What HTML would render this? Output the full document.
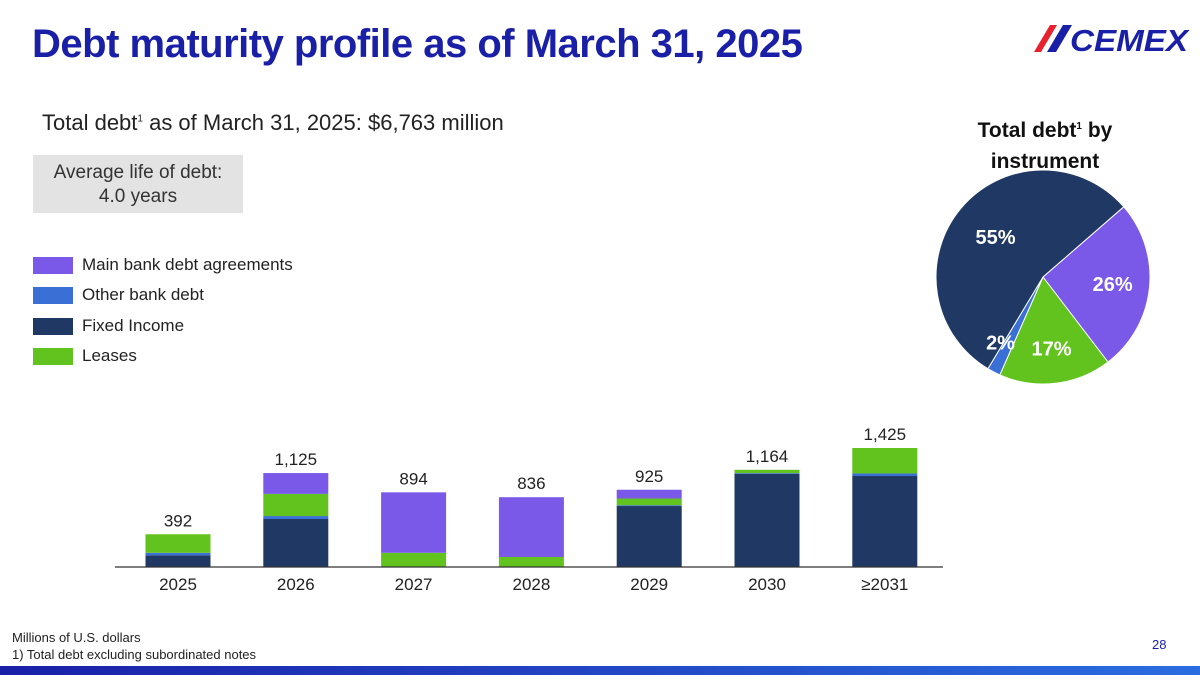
<!DOCTYPE html>
<html><head><meta charset="utf-8"><style>
body{margin:0;width:1200px;height:675px;overflow:hidden;background:#fff;font-family:"Liberation Sans",sans-serif;position:relative}
.a{position:absolute;white-space:nowrap}
</style></head><body>
<div class="a" style="left:32px;top:22px;font-size:40px;font-weight:bold;color:#1a1fa8;letter-spacing:-0.5px">Debt maturity profile as of March 31, 2025</div>
<div class="a" style="left:1028px;top:22px;">
<svg width="165" height="34"><polygon points="6,30 22,3 29,3 13,30" fill="#e8212e"/><polygon points="19,30 35,3 44,3 28,30" fill="#1a1fa8"/><text x="42" y="29" font-family="Liberation Sans" font-weight="bold" font-style="italic" font-size="31" fill="#1a1fa8" textLength="118" lengthAdjust="spacingAndGlyphs">CEMEX</text></svg></div>
<div class="a" style="left:42px;top:110px;font-size:22px;color:#222">Total debt<sup style="font-size:10px">1</sup> as of March 31, 2025: $6,763 million</div>
<div class="a" style="left:33px;top:155px;width:210px;height:58px;background:#e3e3e3;font-size:19px;color:#333;text-align:center;line-height:24px;padding-top:6px;box-sizing:border-box">Average life of debt:<br>4.0 years</div>
<div class="a" style="left:950px;top:111px;width:190px;text-align:center;font-size:21px;font-weight:bold;color:#111;line-height:31px">Total debt<sup style="font-size:10px">1</sup> by<br>instrument</div>
<div id="legend"></div>
<svg id="chart" class="a" style="left:0;top:0" width="1200" height="675"></svg>
<div class="a" style="left:12px;top:630px;font-size:13px;color:#222">Millions of U.S. dollars</div>
<div class="a" style="left:12px;top:647px;font-size:13px;color:#222">1) Total debt excluding subordinated notes</div>
<div class="a" style="left:1152px;top:637px;font-size:13px;color:#1a1fa8">28</div>
<div class="a" style="left:0;top:666px;width:1200px;height:9px;background:linear-gradient(90deg,#1a1fa8,#2a6de0)"></div>
<script>
const categories=["2025","2026","2027","2028","2029","2030","≥2031"];
const totals=[392,1125,894,836,925,1164,1425];
const fixedIncome=[140,575,0,0,730,1114,1090];
const otherBank=[30,35,0,0,10,10,30];
const leases=[222,265,170,120,80,40,305];
const mainBank=[0,250,724,716,105,0,0];
const seriesNames=["Main bank debt agreements","Other bank debt","Fixed Income","Leases"];
const pieLabels=["26%","17%","2%","55%"];
const pieValues=[26,17,2,55];
const colors={main:"#7b59e8",other:"#3a6fd6",fixed:"#203864",lease:"#62c21e"};
const NS="http://www.w3.org/2000/svg";
const svg=document.getElementById('chart');
function mk(t,a){const e=document.createElementNS(NS,t);for(const k in a)e.setAttribute(k,a[k]);svg.appendChild(e);return e;}
const base=567,scale=119/1425;
const y=v=>base-v*scale;
const xc=i=>178+i*117.8;
const bw=65;
const legColors=[colors.main,colors.other,colors.fixed,colors.lease];
const legTop=[255,285,316,346];
const lg=document.getElementById('legend');
seriesNames.forEach((n,i)=>{
 const d=document.createElement('div');
 d.className='a';d.style.left='33px';d.style.top=legTop[i]+'px';
 d.innerHTML='<span style="display:inline-block;width:40px;height:17px;background:'+legColors[i]+';vertical-align:middle"></span><span style="font-size:17px;color:#222;margin-left:9px;vertical-align:middle">'+n+'</span>';
 
 
 lg.appendChild(d);
});
categories.forEach((c,i)=>{
 let acc=0;
 [[fixedIncome,colors.fixed],[otherBank,colors.other],[leases,colors.lease],[mainBank,colors.main]].forEach(([arr,col])=>{
  const v=arr[i]; if(v<=0)return;
  const r=mk('rect',{x:xc(i)-bw/2,y:y(acc+v),width:bw,height:v*scale,fill:col});
  
  
  acc+=v;
 });
 const t=mk('text',{x:xc(i),y:y(totals[i])-8,'text-anchor':'middle','font-size':17,fill:'#222','font-family':'Liberation Sans'});
 t.textContent=totals[i].toLocaleString('en-US');
 
 
 const l=mk('text',{x:xc(i),y:590,'text-anchor':'middle','font-size':17,fill:'#222','font-family':'Liberation Sans'});
 l.textContent=c;
 
 
});
const ax=mk('line',{x1:115,x2:943,y1:base,y2:base,stroke:'#333','stroke-width':1.2});


const cx=1043,cy=277,R=107;
const pieCols=[colors.main,colors.lease,colors.other,colors.fixed];
let ang=49;
const pt=(a,r)=>[cx+r*Math.sin(a*Math.PI/180),cy-r*Math.cos(a*Math.PI/180)];
const pieTot=pieValues.reduce((a,b)=>a+b,0);
const lblR=[70,72,78,62];
const lbls=[];
pieValues.forEach((v,i)=>{
 const sw=v/pieTot*360,a2=ang+sw;
 const [x1,y1]=pt(ang,R),[x2,y2]=pt(a2,R);
 const p=mk('path',{d:`M${cx},${cy}L${x1},${y1}A${R},${R} 0 ${sw>180?1:0} 1 ${x2},${y2}Z`,fill:pieCols[i],stroke:'#fff','stroke-width':1});
 
 
 const mid=i==2?a2+2:ang+sw/2;
 lbls.push([mid,lblR[i]]);
 ang=a2;
});
lbls.forEach(([mid,r],i)=>{
 const [lx,ly]=pt(mid,r);
 const t=mk('text',{x:lx,y:ly+7,'text-anchor':'middle','font-size':20,'font-weight':'bold',fill:'#fff','font-family':'Liberation Sans'});
 t.textContent=pieLabels[i];
 
 
});
</script>
</body></html>
